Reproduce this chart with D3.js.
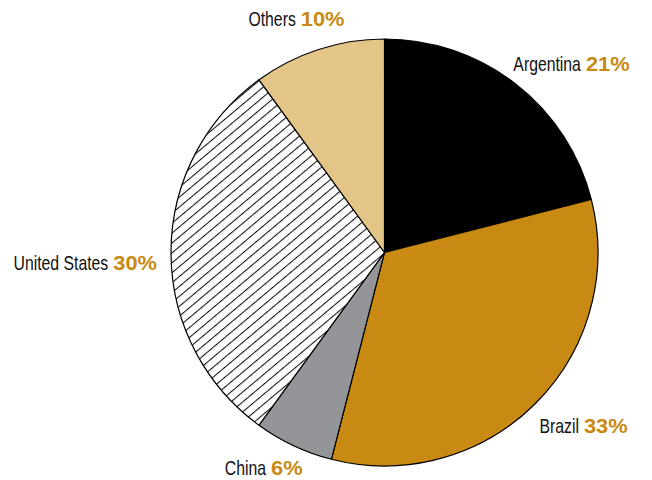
<!DOCTYPE html>
<html>
<head>
<meta charset="utf-8">
<script src="https://cdn.jsdelivr.net/npm/d3@7"></script>
<style>
  html, body { margin: 0; padding: 0; background: #fff; }
  svg { display: block; }
  text { font-family: "Liberation Sans", Arial, sans-serif; }
</style>
</head>
<body>
<svg id="chart" width="652" height="480"></svg>
<script>
// Data
const categories = ["Argentina", "Brazil", "China", "United States", "Others"];
const shares = [21, 33, 6, 30, 10];

// Styling / layout (not data)
const fills = ["#000000", "#C88A12", "#939598", "url(#hatch)", "#E3C587"];
// label nudges relative to the slice's mid-angle point on the rim: [dx, dy, anchor]
const labelNudge = [[-2, -13, "start"], [4, 30, "start"], [9, 29, "end"], [-14, 17, "end"], [26, -23, "end"]];
const nameScale = 0.77, valueScale = 1.04, gap = 5;

const svg = d3.select("#chart");
const cx = 384.5, cy = 252.5, r = 213.5;

const defs = svg.append("defs");
const pat = defs.append("pattern")
  .attr("id", "hatch")
  .attr("patternUnits", "userSpaceOnUse")
  .attr("width", 7.6).attr("height", 7.6)
  .attr("patternTransform", "rotate(-40)");
pat.append("rect").attr("width", 7.6).attr("height", 7.6).attr("fill", "#fff");
pat.append("line").attr("x1", 0).attr("y1", 0.5).attr("x2", 7.6).attr("y2", 0.5)
  .attr("stroke", "#111").attr("stroke-width", 1.1);

const data = categories.map((c, i) => ({ name: c, value: shares[i], i }));
const pie = d3.pie().value(d => d.value).sort(null);
const arcs = pie(data);
const arc = d3.arc().innerRadius(0).outerRadius(r);

const g = svg.append("g").attr("transform", `translate(${cx},${cy})`);
g.selectAll("path.slice").data(arcs).enter().append("path")
  .attr("class", "slice")
  .attr("d", arc)
  .attr("fill", d => fills[d.data.i])
  .attr("stroke", "#000")
  .attr("stroke-width", 1.2)
  .attr("stroke-linejoin", "round");

arcs.forEach(d => {
  const a = (d.startAngle + d.endAngle) / 2;
  const [dx, dy, anchor] = labelNudge[d.data.i];
  const px = r * Math.sin(a) + dx;
  const py = -r * Math.cos(a) + dy;
  const lg = g.append("g").attr("class", "lbl");
  const nameT = lg.append("text")
    .attr("font-size", 20.5).attr("fill", "#111")
    .text(d.data.name);
  const valT = lg.append("text")
    .attr("font-size", 21).attr("font-weight", "bold").attr("fill", "#C88A12")
    .text(d3.format("d")(d.data.value) + "%");
  const wN = nameT.node().getComputedTextLength() * nameScale;
  const wV = valT.node().getComputedTextLength() * valueScale;
  const total = wN + gap + wV;
  const x0 = anchor === "start" ? px : px - total;
  nameT.attr("transform", `translate(${x0},${py}) scale(${nameScale},1)`);
  valT.attr("transform", `translate(${x0 + wN + gap},${py}) scale(${valueScale},1)`);
});
</script>
</body>
</html>
